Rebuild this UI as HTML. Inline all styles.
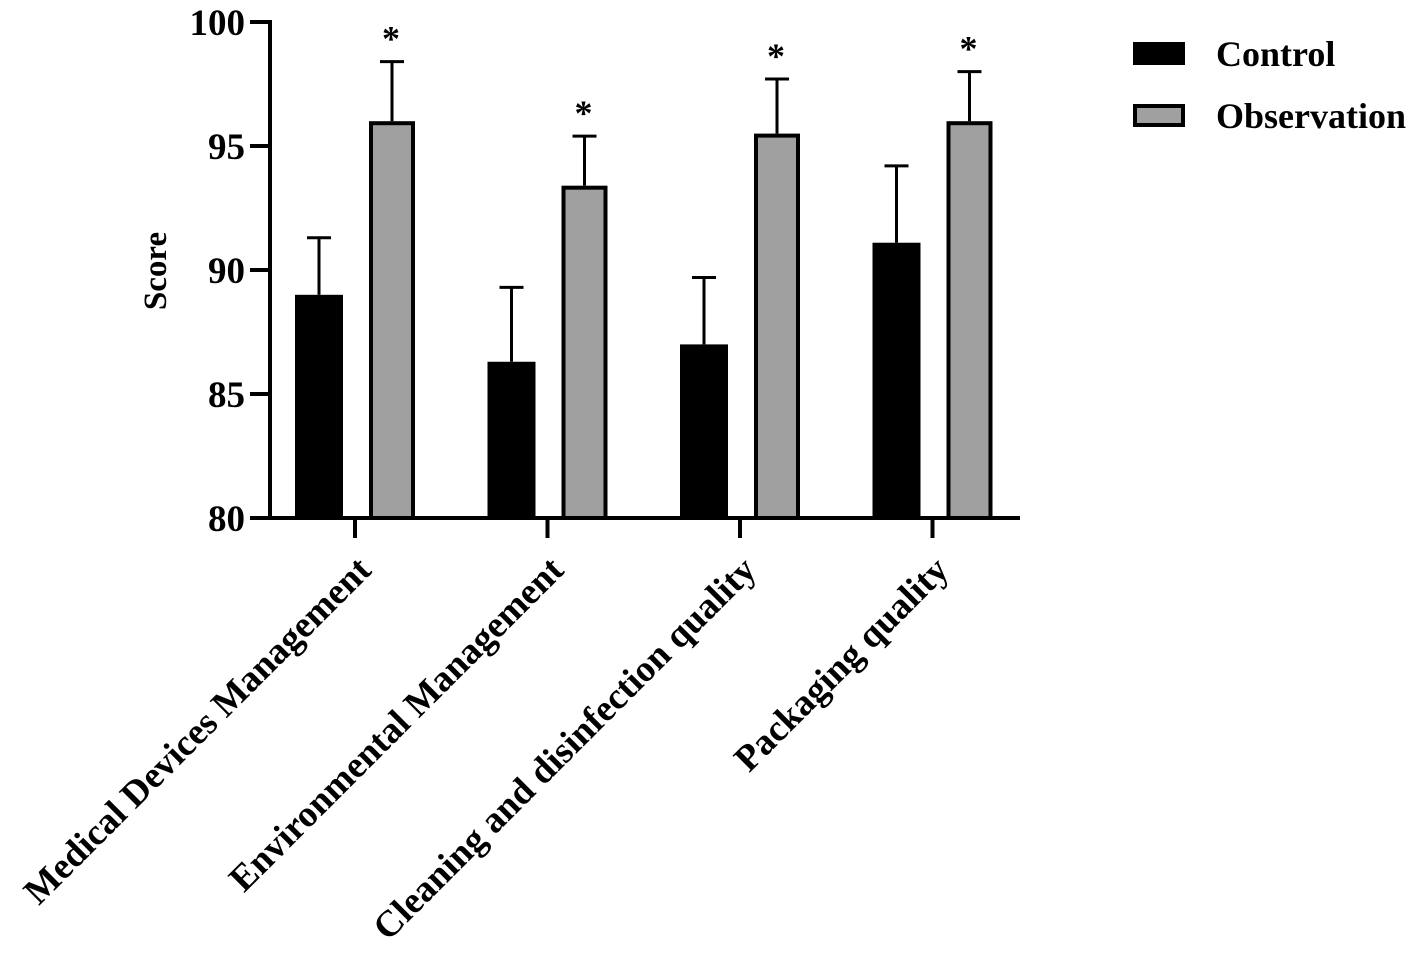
<!DOCTYPE html>
<html><head><meta charset="utf-8"><style>
body{margin:0;background:#fff;}
svg{display:block;font-family:"Liberation Serif",serif;font-weight:bold;}
</style></head><body>
<svg id="chart" width="1417" height="955" viewBox="0 0 1417 955" xmlns="http://www.w3.org/2000/svg">
<g id="plot"></g>
<text x="0" y="0" transform="translate(166,271) rotate(-90)" text-anchor="middle" font-size="33">Score</text>
<g>
<rect x="1133" y="42" width="52" height="23" fill="#000"/>
<text x="1216" y="66" font-size="36">Control</text>
<rect x="1135" y="106" width="48" height="19" fill="#a0a0a0" stroke="#000" stroke-width="4"/>
<text x="1216" y="128" font-size="36">Observation</text>
</g>
</svg>
<script>
const categories=["Medical Devices Management","Environmental Management","Cleaning and disinfection quality","Packaging quality"];
const controlMeans=[89.0,86.3,87.0,91.1];
const controlErr=[2.3,3.0,2.7,3.1];
const obsMeans=[96.0,93.4,95.5,96.0];
const obsErr=[2.4,2.0,2.2,2.0];
const sigMarks=["*","*","*","*"];
const yTicks=[80,85,90,95,100];

const NS="http://www.w3.org/2000/svg";
const g=document.getElementById('plot');
const y0=518,y1=22,vmin=80,vmax=100;
const yS=v=>y0-(v-vmin)/(vmax-vmin)*(y0-y1);
const xS=i=>355+i*192.5;
function mk(t,a){const e=document.createElementNS(NS,t);for(const k in a)e.setAttribute(k,a[k]);g.appendChild(e);return e;}
let e=mk('line',{x1:270,y1:y1-2,x2:270,y2:y0+2,stroke:'#000','stroke-width':4});


e=mk('line',{x1:250,y1:y0,x2:1020,y2:y0,stroke:'#000','stroke-width':4});


yTicks.forEach(v=>{
 let t=mk('line',{x1:250,x2:270,y1:yS(v),y2:yS(v),stroke:'#000','stroke-width':4});
 
 
 let l=mk('text',{x:245,y:yS(v)+13,'text-anchor':'end','font-size':37});
 l.textContent=v;
 
 
});
categories.forEach((c,i)=>{
 const cx=xS(i);
 let t=mk('line',{x1:cx,x2:cx,y1:y0,y2:y0+20,stroke:'#000','stroke-width':4});
 
 
 let l=mk('text',{x:0,y:0,'text-anchor':'end','font-size':37,transform:`translate(${cx+18},${y0+54}) rotate(-45)`});
 l.textContent=c;
 
 
 const cxC=cx-36, cxO=cx+37;
 let eb=mk('line',{x1:cxC,x2:cxC,y1:yS(controlMeans[i]+controlErr[i]),y2:yS(controlMeans[i]),stroke:'#000','stroke-width':3});
 
 
 let cap=mk('line',{x1:cxC-12,x2:cxC+12,y1:yS(controlMeans[i]+controlErr[i]),y2:yS(controlMeans[i]+controlErr[i]),stroke:'#000','stroke-width':3});
 
 
 let b=mk('rect',{x:cxC-24,y:yS(controlMeans[i]),width:48,height:y0-yS(controlMeans[i]),fill:'#000'});
 
 
 eb=mk('line',{x1:cxO,x2:cxO,y1:yS(obsMeans[i]+obsErr[i]),y2:yS(obsMeans[i]),stroke:'#000','stroke-width':3});
 
 
 cap=mk('line',{x1:cxO-12,x2:cxO+12,y1:yS(obsMeans[i]+obsErr[i]),y2:yS(obsMeans[i]+obsErr[i]),stroke:'#000','stroke-width':3});
 
 
 b=mk('rect',{x:cxO-21,y:yS(obsMeans[i])+2,width:42,height:y0-yS(obsMeans[i])-2,fill:'#a0a0a0',stroke:'#000','stroke-width':4});
 
 
 let s=mk('text',{x:cxO-1,y:yS(obsMeans[i]+obsErr[i])-11,'text-anchor':'middle','font-size':36});
 s.textContent=sigMarks[i];
 
 
});
</script>
</body></html>
